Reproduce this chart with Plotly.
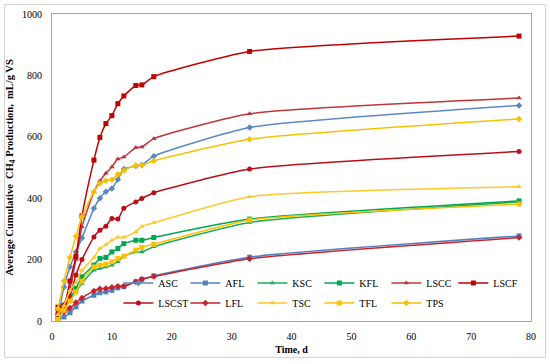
import plotly.graph_objects as go

days = [1, 2, 3, 4, 5, 7, 8, 9, 10, 11, 12, 14, 15, 17, 33, 78]

asc = [10, 111, 176, 225, 270, 367, 400, 421, 432, 461, 495, 505, 508, 537, 630, 702]
afl = [5, 13, 27, 46, 65, 84, 92, 95, 100, 108, 112, 128, 136, 147, 208, 277]
ksc = [10, 40, 65, 95, 122, 165, 171, 176, 182, 193, 211, 225, 225, 242, 321, 388]
kfl = [20, 51, 73, 106, 144, 182, 204, 207, 225, 236, 252, 263, 263, 272, 332, 391]
lscc = [30, 55, 105, 200, 307, 420, 456, 481, 502, 528, 534, 565, 567, 594, 675, 726]
lscf = [45, 50, 130, 210, 342, 524, 598, 643, 669, 708, 733, 767, 769, 796, 878, 928]
lscst = [35, 45, 80, 150, 200, 274, 296, 309, 334, 332, 367, 388, 399, 418, 495, 552]
lfl = [20, 29, 42, 60, 75, 98, 105, 106, 110, 113, 113, 128, 136, 145, 203, 272]
tsc = [20, 50, 100, 125, 165, 207, 236, 248, 263, 273, 273, 290, 308, 320, 405, 437]
tfl = [5, 35, 65, 95, 130, 176, 182, 185, 193, 204, 211, 231, 240, 250, 329, 381]
tps = [40, 130, 207, 276, 340, 421, 448, 457, 460, 478, 490, 507, 507, 522, 592, 658]

series = [
    ("ASC", asc, "#5B87C5", "diamond", "legend"),
    ("AFL", afl, "#4F81BD", "square", "legend"),
    ("KSC", ksc, "#1DAE5A", "triangle-up", "legend"),
    ("KFL", kfl, "#00A651", "square", "legend"),
    ("LSCC", lscc, "#C0343A", "triangle-up", "legend"),
    ("LSCF", lscf, "#C00000", "square", "legend"),
    ("LSCST", lscst, "#B80F1A", "circle", "legend2"),
    ("LFL", lfl, "#C8232C", "diamond", "legend2"),
    ("TSC", tsc, "#FFC926", "triangle-up", "legend2"),
    ("TFL", tfl, "#FFC000", "square", "legend2"),
    ("TPS", tps, "#F5C200", "diamond", "legend2"),
]

fig = go.Figure()
for name, vals, color, sym, lg in series:
    fig.add_trace(go.Scatter(
        x=days, y=vals, name=name, mode="lines+markers",
        line=dict(color=color, width=1.5, shape="spline", smoothing=0.5),
        marker=dict(symbol=sym, size=5, color=color),
        legend=lg,
    ))

serif = "Liberation Serif, Times New Roman, serif"
W, H = 550, 364
L, R, T, B = 51.5, 18.5, 14.3, 43.3
pw = W - L - R
ph = H - T - B

def px_x(p):
    return (p - L) / pw

def px_y(p):
    return (H - B - p) / ph

legend_common = dict(
    orientation="h", xanchor="left", yanchor="middle",
    font=dict(family=serif, size=10, color="#000000"),
    bgcolor="rgba(0,0,0,0)", itemwidth=30,
    entrywidth=22, entrywidthmode="pixels",
    tracegroupgap=0,
)

fig.update_layout(
    width=W, height=H,
    margin=dict(l=L, r=R, t=T, b=B, autoexpand=False),
    paper_bgcolor="white", plot_bgcolor="white",
    font=dict(family=serif, size=10, color="#000000"),
    legend=dict(x=px_x(118), y=px_y(282.7), **legend_common),
    legend2=dict(x=px_x(118), y=px_y(302.7), **legend_common),
    xaxis=dict(
        range=[0, 80], tickmode="array", tickvals=[0, 10, 20, 30, 40, 50, 60, 70, 80],
        showgrid=False, zeroline=False, showline=True, mirror=True,
        linecolor="#A6A6A6", linewidth=1, ticks="", ticklabelstandoff=6,
        tickfont=dict(family=serif, size=10),
        title=dict(text="<b>Time, d</b>", font=dict(family=serif, size=10), standoff=4),
        automargin=False,
    ),
    yaxis=dict(
        range=[0, 1000], tickmode="array", tickvals=[0, 200, 400, 600, 800, 1000],
        showgrid=False, zeroline=False, showline=True, mirror=True,
        linecolor="#A6A6A6", linewidth=1, ticks="", ticklabelstandoff=7,
        tickfont=dict(family=serif, size=10),
        title=dict(text="<b>Average Cumulative  CH<sub>4</sub> Production,  mL/g VS</b>",
                   font=dict(family=serif, size=10.5), standoff=6),
        automargin=False,
    ),
    shapes=[dict(
        type="rect", xref="paper", yref="paper",
        x0=px_x(4), x1=px_x(546), y0=px_y(357), y1=px_y(5),
        line=dict(color="#D0D0D0", width=1), fillcolor="rgba(0,0,0,0)", layer="below",
    )],
)

fig.write_html(
    "out.html",
    config={"displayModeBar": False},
    post_script="document.body.style.margin='0';",
)
